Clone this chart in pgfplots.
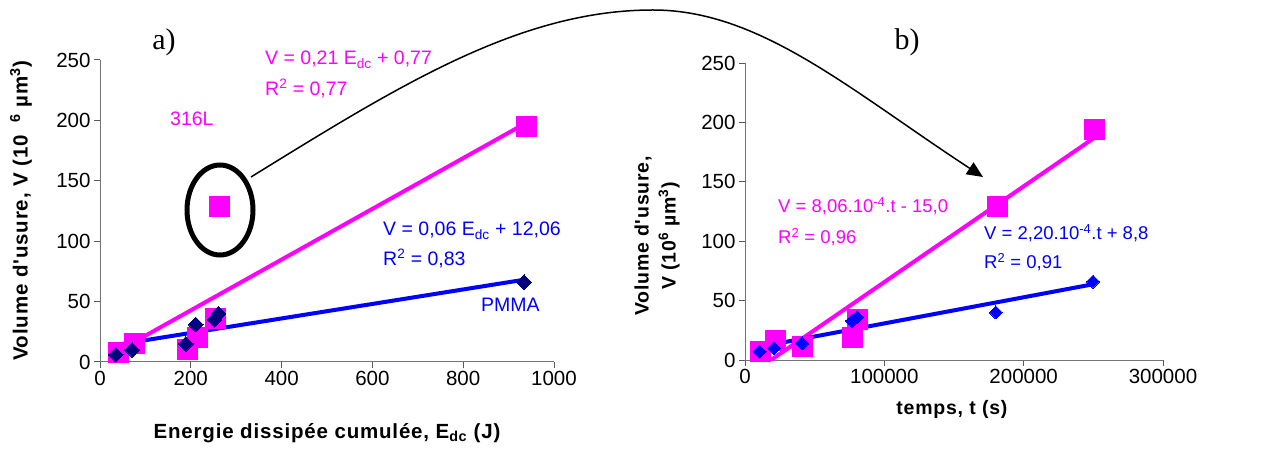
\documentclass[border=0pt]{standalone}
\usepackage{pgfplots}
\pgfplotsset{compat=1.18}
\usepackage{fontspec}
\setmainfont{Liberation Sans}
\newfontfamily\serif{Liberation Serif}
\newfontfamily\labfont[LetterSpace=4]{Liberation Sans}
\usetikzlibrary{arrows.meta}
\definecolor{mag}{RGB}{255,0,255}
\definecolor{navy}{RGB}{0,0,128}
\definecolor{bl}{RGB}{0,0,255}
\pgfplotsset{myax/.style={scale only axis, axis lines*=left,
  axis line style={black!55, line width=1pt},
  tick style={black!65, line width=1pt}, tick align=outside, major tick length=6pt,
  tick label style={font=\fontsize{20.5}{24}\selectfont},
  /pgf/number format/assume math mode=true,
  /pgf/number format/1000 sep={},
  ymin=0, ymax=250, ytick={0,50,...,250}}}
\begin{document}
\begin{tikzpicture}
% ---------------- a)
\begin{axis}[myax, at={(100pt,88pt)}, anchor=origin, width=454pt, height=302pt,
  xmin=0, xmax=1000, xtick={0,200,...,1000},
  label style={font=\labfont\bfseries\fontsize{20.5}{26}\selectfont},
  xlabel={Energie dissipée cumulée, E\textsubscript{dc} (J)},
  xlabel style={at={(axis description cs:0.5,-0.235)}, anchor=center},
  ylabel={Volume d'usure, V (10\ \ \textsuperscript{6} µm\textsuperscript{3})},
  ylabel style={at={(axis description cs:-0.174,0.5)}, anchor=center}]
\addplot[mag, line width=4pt] coordinates {(40,9.17) (940,198.17)};
\addplot[only marks, mark=square*, mark size=10pt, mark options={fill=mag, draw=mag, line width=0pt}]
  coordinates {(40,7.5) (75,15) (193,10) (215,20) (255,36) (264,129) (940,195)};
\addplot[bl, line width=4pt] coordinates {(35,14.16) (934,68.1)};
\addplot[only marks, mark=square*, mark size=5.2pt, mark options={rotate=45, fill=navy, draw=navy, line width=0pt}]
  coordinates {(35,6) (71,10) (189,15) (211,31) (252,35) (261,40) (934,66)};
\end{axis}
% ---------------- b)
\begin{axis}[myax, at={(745pt,90pt)}, anchor=origin, width=418pt, height=297pt,
  xmin=0, xmax=300000, xtick={0,100000,200000,300000}, scaled x ticks=false,
  xticklabel style={/pgf/number format/fixed},
  label style={font=\labfont\bfseries\fontsize{19.5}{27}\selectfont},
  xlabel={temps, t (s)},
  xlabel style={at={(axis description cs:0.495,-0.168)}, anchor=center},
  ylabel={Volume d'usure,\\V (10\textsuperscript{6} µm\textsuperscript{3})},
  ylabel style={at={(axis description cs:-0.2105,0.4175)}, anchor=center, align=center}]
\addplot[mag, line width=4pt] coordinates {(10000,-6.94) (250500,186.9)};
\addplot[only marks, mark=square*, mark size=10pt, mark options={fill=mag, draw=mag, line width=0pt}]
  coordinates {(11000,7) (22000,16) (41000,11) (77500,19) (81000,34) (181000,129) (250500,194)};
\addplot[bl, line width=4pt] coordinates {(10500,11.11) (249800,63.76)};
\addplot[only marks, mark=square*, mark size=4.6pt, mark options={rotate=45, fill=bl, draw=bl, line width=0pt}]
  coordinates {(10500,7) (20800,10) (41000,14) (76800,33) (80400,36) (180000,40) (249800,66)};
\end{axis}
% ---------------- annotations
\begin{scope}[x=1pt,y=1pt]
\node[anchor=base, font=\serif\fontsize{30}{32}\selectfont] at (164,400) {a)};
\node[anchor=base, font=\serif\fontsize{30}{32}\selectfont] at (907,400) {b)};
\begin{scope}[font=\fontsize{19.5}{22}\selectfont]
\node[anchor=base west, inner sep=0pt, text=mag] at (265,385) {V = 0,21 E\textsubscript{dc} + 0,77};
\node[anchor=base west, inner sep=0pt, text=mag] at (265,354) {R\textsuperscript{2} = 0,77};
\node[anchor=base west, inner sep=0pt, text=mag] at (170,324) {316L};
\node[anchor=base west, inner sep=0pt, text=bl] at (383,214) {V = 0,06 E\textsubscript{dc} + 12,06};
\node[anchor=base west, inner sep=0pt, text=bl] at (383,184) {R\textsuperscript{2} = 0,83};
\node[anchor=base west, inner sep=0pt, text=bl] at (481,138) {PMMA};
\end{scope}
\begin{scope}[font=\fontsize{18.5}{21}\selectfont]
\node[anchor=base west, inner sep=0pt, text=mag] at (778,237) {V = 8,06.10\textsuperscript{-4}.t - 15,0};
\node[anchor=base west, inner sep=0pt, text=mag] at (778,206) {R\textsuperscript{2} = 0,96};
\node[anchor=base west, inner sep=0pt, text=bl] at (984,210) {V = 2,20.10\textsuperscript{-4}.t + 8,8};
\node[anchor=base west, inner sep=0pt, text=bl] at (984,181) {R\textsuperscript{2} = 0,91};
\end{scope}
\draw[line width=5pt] (220,240) ellipse [x radius=33, y radius=45];
\draw[line width=1.5pt, -{Triangle[length=16pt,width=14pt]}] (251,273) .. controls (400,365) and (520,440) .. (653,440) .. controls (760,440) and (850,360) .. (983,273);
\pgfresetboundingbox
\path[use as bounding box] (0,0) rectangle (1264,450);
\end{scope}
\end{tikzpicture}
\end{document}
